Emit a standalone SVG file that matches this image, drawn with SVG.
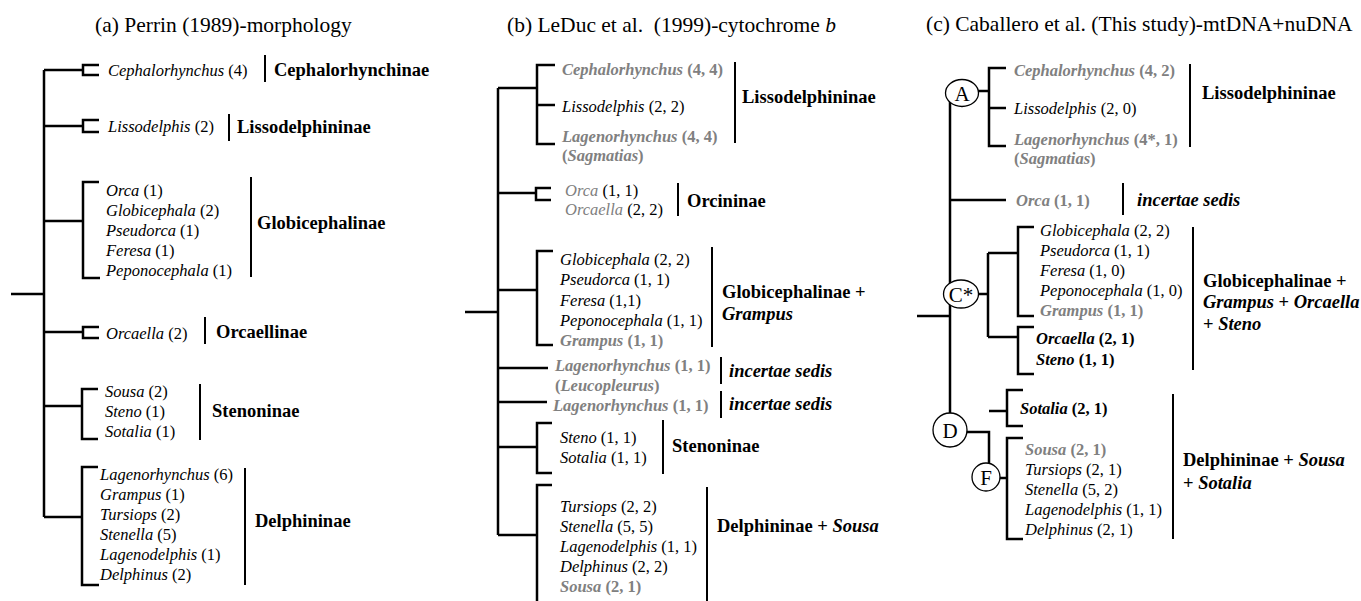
<svg xmlns="http://www.w3.org/2000/svg" width="1361" height="601" viewBox="0 0 1361 601">
<style>
text{font-family:"Liberation Serif","Times New Roman",serif;font-size:16.5px;fill:#000}
.ti{font-size:21.5px}
.i{font-style:italic}
.b{font-weight:bold}
.g{fill:#808080}
.lab{font-size:18.5px;font-weight:bold}
.tr{stroke:#000;stroke-width:2.5;fill:none;stroke-linejoin:miter}
.bar{stroke:#000;stroke-width:2;fill:none}
.cir{fill:#fff;stroke:#000;stroke-width:1.3}
.cl{font-size:21px;text-anchor:middle}
</style>
<rect width="1361" height="601" fill="#fff"/>

<!-- Panel (a) -->
<g id="panel-a">
<text id="title-a" class="ti" x="95" y="32">(a) Perrin (1989)-morphology</text>
<g id="connectors-a">
<path class="tr" d="M11 294H44M44 70V517"/>
<path class="tr" d="M44 70H83M99 65H83V75H99"/>
<path class="tr" d="M44 126H83M99 120H83V132H99"/>
<path class="tr" d="M44 221H83M99 182H83V278H100"/>
<path class="tr" d="M44 332H83M99 327H83V338H99"/>
<path class="tr" d="M44 406H82M98 389H82V439H98"/>
<path class="tr" d="M44 517H82M98 467H82V585H99"/>
</g>
<g id="a-cephalorhynchinae">
<text x="108" y="76"><tspan class="i">Cephalorhynchus</tspan> (4)</text>
<path class="bar" d="M265 55V82"/>
<text class="lab" x="274" y="76">Cephalorhynchinae</text>
</g>
<g id="a-lissodelphininae">
<text x="108" y="132"><tspan class="i">Lissodelphis</tspan> (2)</text>
<path class="bar" d="M229 114V141"/>
<text class="lab" x="237" y="133">Lissodelphininae</text>
</g>
<g id="a-globicephalinae">
<text x="106" y="196"><tspan class="i">Orca</tspan> (1)</text>
<text x="106" y="216"><tspan class="i">Globicephala</tspan> (2)</text>
<text x="106" y="236"><tspan class="i">Pseudorca</tspan> (1)</text>
<text x="106" y="256"><tspan class="i">Feresa</tspan> (1)</text>
<text x="106" y="276"><tspan class="i">Peponocephala</tspan> (1)</text>
<path class="bar" d="M251 177V277"/>
<text class="lab" x="257" y="229">Globicephalinae</text>
</g>
<g id="a-orcaellinae">
<text x="106" y="339"><tspan class="i">Orcaella</tspan> (2)</text>
<path class="bar" d="M205 317V344"/>
<text class="lab" x="216" y="338">Orcaellinae</text>
</g>
<g id="a-stenoninae">
<text x="105" y="397"><tspan class="i">Sousa</tspan> (2)</text>
<text x="105" y="417"><tspan class="i">Steno</tspan> (1)</text>
<text x="105" y="437"><tspan class="i">Sotalia</tspan> (1)</text>
<path class="bar" d="M200 384V440"/>
<text class="lab" x="212" y="417">Stenoninae</text>
</g>
<g id="a-delphininae">
<text x="100" y="480"><tspan class="i">Lagenorhynchus</tspan> (6)</text>
<text x="100" y="500"><tspan class="i">Grampus</tspan> (1)</text>
<text x="100" y="520"><tspan class="i">Tursiops</tspan> (2)</text>
<text x="100" y="540"><tspan class="i">Stenella</tspan> (5)</text>
<text x="100" y="560"><tspan class="i">Lagenodelphis</tspan> (1)</text>
<text x="100" y="580"><tspan class="i">Delphinus</tspan> (2)</text>
<path class="bar" d="M245 468V585"/>
<text class="lab" x="255" y="527">Delphininae</text>
</g>
</g>

<!-- Panel (b) -->
<g id="panel-b">
<text id="title-b" class="ti" x="507" y="32" xml:space="preserve">(b) LeDuc et al.  (1999)-cytochrome <tspan class="i">b</tspan></text>
<g id="connectors-b">
<path class="tr" d="M465 312H498M498 88V535"/>
<path class="tr" d="M498 88H537M555 65H537V144H555M537 105H555"/>
<path class="tr" d="M498 193H536M551 188H536V200H551"/>
<path class="tr" d="M498 290H537M553 251H537V345H553"/>
<path class="tr" d="M498 368H548"/>
<path class="tr" d="M498 402H547"/>
<path class="tr" d="M498 447H537M552 423H537V473H552"/>
<path class="tr" d="M498 535H537M552 485H537V601"/>
</g>
<g id="b-lissodelphininae">
<text class="g b" x="562" y="75"><tspan class="i">Cephalorhynchus</tspan> (4, 4)</text>
<text x="562" y="112"><tspan class="i">Lissodelphis</tspan> (2, 2)</text>
<text class="g b" x="562" y="142"><tspan class="i">Lagenorhynchus</tspan> (4, 4)</text>
<text class="g b" x="562" y="161">(<tspan class="i">Sagmatias</tspan>)</text>
<path class="bar" d="M735 62V143"/>
<text class="lab" x="742" y="103">Lissodelphininae</text>
</g>
<g id="b-orcininae">
<text x="565" y="196"><tspan class="i g">Orca</tspan> (1, 1)</text>
<text x="565" y="215"><tspan class="i g">Orcaella</tspan> (2, 2)</text>
<path class="bar" d="M678 183V216"/>
<text class="lab" x="687" y="207">Orcininae</text>
</g>
<g id="b-globicephalinae-grampus">
<text x="560" y="265"><tspan class="i">Globicephala</tspan> (2, 2)</text>
<text x="560" y="285"><tspan class="i">Pseudorca</tspan> (1, 1)</text>
<text x="560" y="306"><tspan class="i">Feresa</tspan> (1,1)</text>
<text x="560" y="326"><tspan class="i">Peponocephala</tspan> (1, 1)</text>
<text class="g b" x="560" y="346"><tspan class="i">Grampus</tspan> (1, 1)</text>
<path class="bar" d="M712 247V347"/>
<text class="lab" x="722" y="298">Globicephalinae +</text>
<text class="lab i" x="722" y="320">Grampus</text>
</g>
<g id="b-incertae-1">
<text class="g b" x="555" y="371"><tspan class="i">Lagenorhynchus</tspan> (1, 1)</text>
<text class="g b" x="555" y="391">(<tspan class="i">Leucopleurus</tspan>)</text>
<path class="bar" d="M721 357V384"/>
<text class="lab i" x="729" y="377">incertae sedis</text>
</g>
<g id="b-incertae-2">
<text class="g b" x="553" y="411"><tspan class="i">Lagenorhynchus</tspan> (1, 1)</text>
<path class="bar" d="M721 391V418"/>
<text class="lab i" x="729" y="410">incertae sedis</text>
</g>
<g id="b-stenoninae">
<text x="560" y="443"><tspan class="i">Steno</tspan> (1, 1)</text>
<text x="560" y="463"><tspan class="i">Sotalia</tspan> (1, 1)</text>
<path class="bar" d="M663 420V474"/>
<text class="lab" x="672" y="452">Stenoninae</text>
</g>
<g id="b-delphininae-sousa">
<text x="560" y="512"><tspan class="i">Tursiops</tspan> (2, 2)</text>
<text x="560" y="532"><tspan class="i">Stenella</tspan> (5, 5)</text>
<text x="560" y="552"><tspan class="i">Lagenodelphis</tspan> (1, 1)</text>
<text x="560" y="572"><tspan class="i">Delphinus</tspan> (2, 2)</text>
<text class="g b" x="560" y="592"><tspan class="i">Sousa</tspan> (2, 1)</text>
<path class="bar" d="M707 487V601"/>
<text class="lab" x="717" y="532">Delphininae + <tspan class="i">Sousa</tspan></text>
</g>
</g>

<!-- Panel (c) -->
<g id="panel-c">
<text id="title-c" class="ti" x="926" y="31">(c) Caballero et al. (This study)-mtDNA+nuDNA</text>
<g id="connectors-c">
<path class="tr" d="M917 316H950M950 92V430"/>
<path class="tr" d="M962 91H989M1006 68H989V146H1006M989 108H1006"/>
<path class="tr" d="M950 200H1006"/>
<path class="tr" d="M961 294H988M988 253V337M988 253H1018M1034 227H1018V316H1034M988 337H1018M1034 327H1018V374H1034"/>
<path class="tr" d="M950 432H989V477M989 411H1007M1023 390H1007V426H1023M986 478H1007M1023 438H1007V539H1023"/>
</g>
<g id="node-A">
<ellipse class="cir" cx="962" cy="93" rx="16.5" ry="13.5"/>
<text class="cl" x="962" y="100.5">A</text>
</g>
<g id="node-C">
<ellipse class="cir" cx="961" cy="294" rx="17.5" ry="14"/>
<text class="cl" x="961" y="301.5">C*</text>
</g>
<g id="node-D">
<circle class="cir" cx="950" cy="430" r="17"/>
<text class="cl" x="950" y="437.5">D</text>
</g>
<g id="node-F">
<circle class="cir" cx="986" cy="477" r="14"/>
<text class="cl" x="986" y="484.5">F</text>
</g>
<g id="c-lissodelphininae">
<text class="g b" x="1014" y="76"><tspan class="i">Cephalorhynchus</tspan> (4, 2)</text>
<text x="1014" y="114"><tspan class="i">Lissodelphis</tspan> (2, 0)</text>
<text class="g b" x="1014" y="145"><tspan class="i">Lagenorhynchus</tspan> (4*, 1)</text>
<text class="g b" x="1014" y="164">(<tspan class="i">Sagmatias</tspan>)</text>
<path class="bar" d="M1190 64V147"/>
<text class="lab" x="1202" y="99">Lissodelphininae</text>
</g>
<g id="c-orca">
<text class="g b" x="1016" y="206"><tspan class="i">Orca</tspan> (1, 1)</text>
<path class="bar" d="M1123 183V215"/>
<text class="lab i" x="1137" y="206">incertae sedis</text>
</g>
<g id="c-globicephalinae">
<text x="1040" y="236"><tspan class="i">Globicephala</tspan> (2, 2)</text>
<text x="1040" y="256"><tspan class="i">Pseudorca</tspan> (1, 1)</text>
<text x="1040" y="276"><tspan class="i">Feresa</tspan> (1, 0)</text>
<text x="1040" y="296"><tspan class="i">Peponocephala</tspan> (1, 0)</text>
<text class="g b" x="1040" y="316"><tspan class="i">Grampus</tspan> (1, 1)</text>
<text class="b" x="1036" y="344"><tspan class="i">Orcaella</tspan> (2, 1)</text>
<text class="b" x="1036" y="365"><tspan class="i">Steno</tspan> (1, 1)</text>
<path class="bar" d="M1193 227V370"/>
<text class="lab" x="1203" y="287">Globicephalinae +</text>
<text class="lab" x="1203" y="308"><tspan class="i">Grampus</tspan> + <tspan class="i">Orcaella</tspan></text>
<text class="lab" x="1203" y="330">+ <tspan class="i">Steno</tspan></text>
</g>
<g id="c-delphininae">
<text class="b" x="1020" y="414"><tspan class="i">Sotalia</tspan> (2, 1)</text>
<text class="g b" x="1025" y="455"><tspan class="i">Sousa</tspan> (2, 1)</text>
<text x="1025" y="475"><tspan class="i">Tursiops</tspan> (2, 1)</text>
<text x="1025" y="495"><tspan class="i">Stenella</tspan> (5, 2)</text>
<text x="1025" y="515"><tspan class="i">Lagenodelphis</tspan> (1, 1)</text>
<text x="1025" y="535"><tspan class="i">Delphinus</tspan> (2, 1)</text>
<path class="bar" d="M1173 394V539"/>
<text class="lab" x="1183" y="466">Delphininae + <tspan class="i">Sousa</tspan></text>
<text class="lab" x="1183" y="489">+ <tspan class="i">Sotalia</tspan></text>
</g>
</g>
</svg>
